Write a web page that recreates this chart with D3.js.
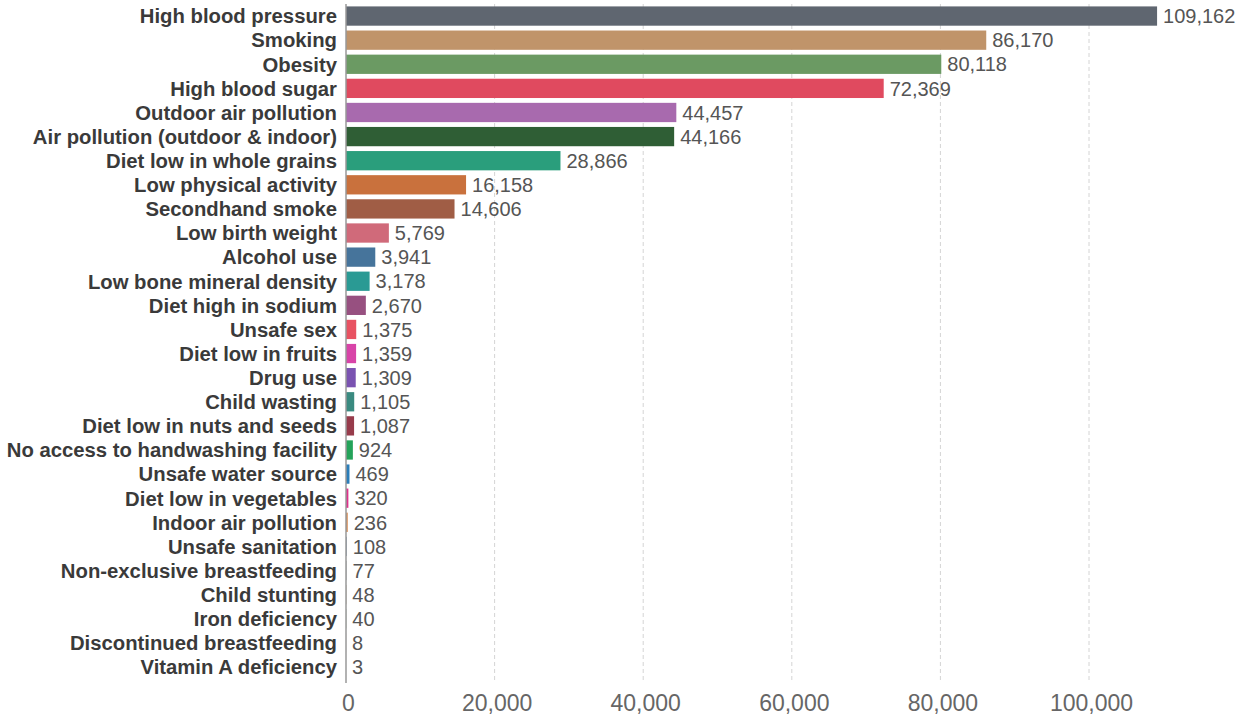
<!DOCTYPE html>
<html>
<head>
<meta charset="utf-8">
<script src="https://cdn.jsdelivr.net/npm/d3@7"></script>
<style>
  body { margin: 0; background: #fff; }
  svg { display: block; font-family: "Liberation Sans", Arial, sans-serif; }
</style>
</head>
<body>
<div id="wrapper"></div>
<script>
// risk factors, sorted as shown
const categories = [
  "High blood pressure", "Smoking", "Obesity", "High blood sugar",
  "Outdoor air pollution", "Air pollution (outdoor & indoor)", "Diet low in whole grains",
  "Low physical activity", "Secondhand smoke", "Low birth weight", "Alcohol use",
  "Low bone mineral density", "Diet high in sodium", "Unsafe sex", "Diet low in fruits",
  "Drug use", "Child wasting", "Diet low in nuts and seeds",
  "No access to handwashing facility", "Unsafe water source", "Diet low in vegetables",
  "Indoor air pollution", "Unsafe sanitation", "Non-exclusive breastfeeding",
  "Child stunting", "Iron deficiency", "Discontinued breastfeeding", "Vitamin A deficiency"
];
const deaths = [
  109162, 86170, 80118, 72369, 44457, 44166, 28866, 16158, 14606, 5769, 3941,
  3178, 2670, 1375, 1359, 1309, 1105, 1087, 924, 469, 320, 236, 108, 77, 48, 40, 8, 3
];
const barColors = [
  "#5f6670", "#c0946a", "#6b9a63", "#e04a5f", "#a86aae", "#2f5e35", "#2a9e7c",
  "#c9713d", "#a05d45", "#d06a7a", "#46749b", "#2a9a94", "#975080", "#e85262",
  "#d844a8", "#7a53b1", "#3a8a80", "#973b4b", "#24a35a", "#2a7db9", "#e0318c",
  "#d88b52", "#7a90b0", "#9aa0a8", "#a08870", "#8a9a80", "#b07080", "#8080a0"
];
const xTicks = [0, 20000, 40000, 60000, 80000, 100000];

function drawChart() {
  const width = 1242, height = 728;
  const x0 = 346;

  const svg = d3.select("#wrapper").append("svg")
      .attr("width", width)
      .attr("height", height);

  const xScale = d3.scaleLinear()
      .domain([0, 100000])
      .range([x0, x0 + 743]);

  const yScale = d3.scaleBand()
      .domain(categories)
      .range([4, 679])
      .paddingInner(0.2)
      .paddingOuter(0.1);

  // dashed vertical grid
  svg.append("g").selectAll("line")
      .data(xTicks.slice(1))
      .join("line")
      .attr("x1", d => xScale(d))
      .attr("x2", d => xScale(d))
      .attr("y1", 4)
      .attr("y2", 683)
      .attr("stroke", "#d4d4d4")
      .attr("stroke-width", 1)
      .attr("stroke-dasharray", "4,3");

  const data = categories.map((c, i) => ({ name: c, value: deaths[i], color: barColors[i] }));

  // bars
  svg.append("g").selectAll("rect")
      .data(data)
      .join("rect")
      .attr("x", xScale(0))
      .attr("y", d => yScale(d.name))
      .attr("width", d => Math.max(0, xScale(d.value) - xScale(0)))
      .attr("height", yScale.bandwidth())
      .attr("fill", d => d.color);

  // value labels
  svg.append("g").selectAll("text")
      .data(data)
      .join("text")
      .attr("x", d => xScale(d.value) + 6)
      .attr("y", d => yScale(d.name) + yScale.bandwidth() / 2)
      .attr("dy", "0.36em")
      .attr("fill", "#555")
      .style("font-size", "20px")
      .text(d => d3.format(",")(d.value));

  // category labels
  svg.append("g").selectAll("text")
      .data(data)
      .join("text")
      .attr("x", 337)
      .attr("y", d => yScale(d.name) + yScale.bandwidth() / 2)
      .attr("dy", "0.36em")
      .attr("text-anchor", "end")
      .attr("fill", "#3a3a3a")
      .style("font-size", "20.3px")
      .style("font-weight", "bold")
      .text(d => d.name);

  // y axis line
  svg.append("line")
      .attr("x1", xScale(0))
      .attr("x2", xScale(0))
      .attr("y1", 4)
      .attr("y2", 683)
      .attr("stroke", "#999")
      .attr("stroke-width", 1.5);

  // x tick labels
  const xAxis = d3.axisBottom(xScale)
      .tickValues(xTicks)
      .tickFormat(d3.format(","))
      .tickSize(0)
      .tickPadding(0);

  const xg = svg.append("g")
      .attr("transform", "translate(2, 695)")
      .call(xAxis);
  xg.select(".domain").remove();
  xg.selectAll("text")
      .attr("fill", "#666")
      .style("font-size", "23px")
      .style("font-family", "'Liberation Sans', Arial, sans-serif");
}

drawChart();
</script>
</body>
</html>
